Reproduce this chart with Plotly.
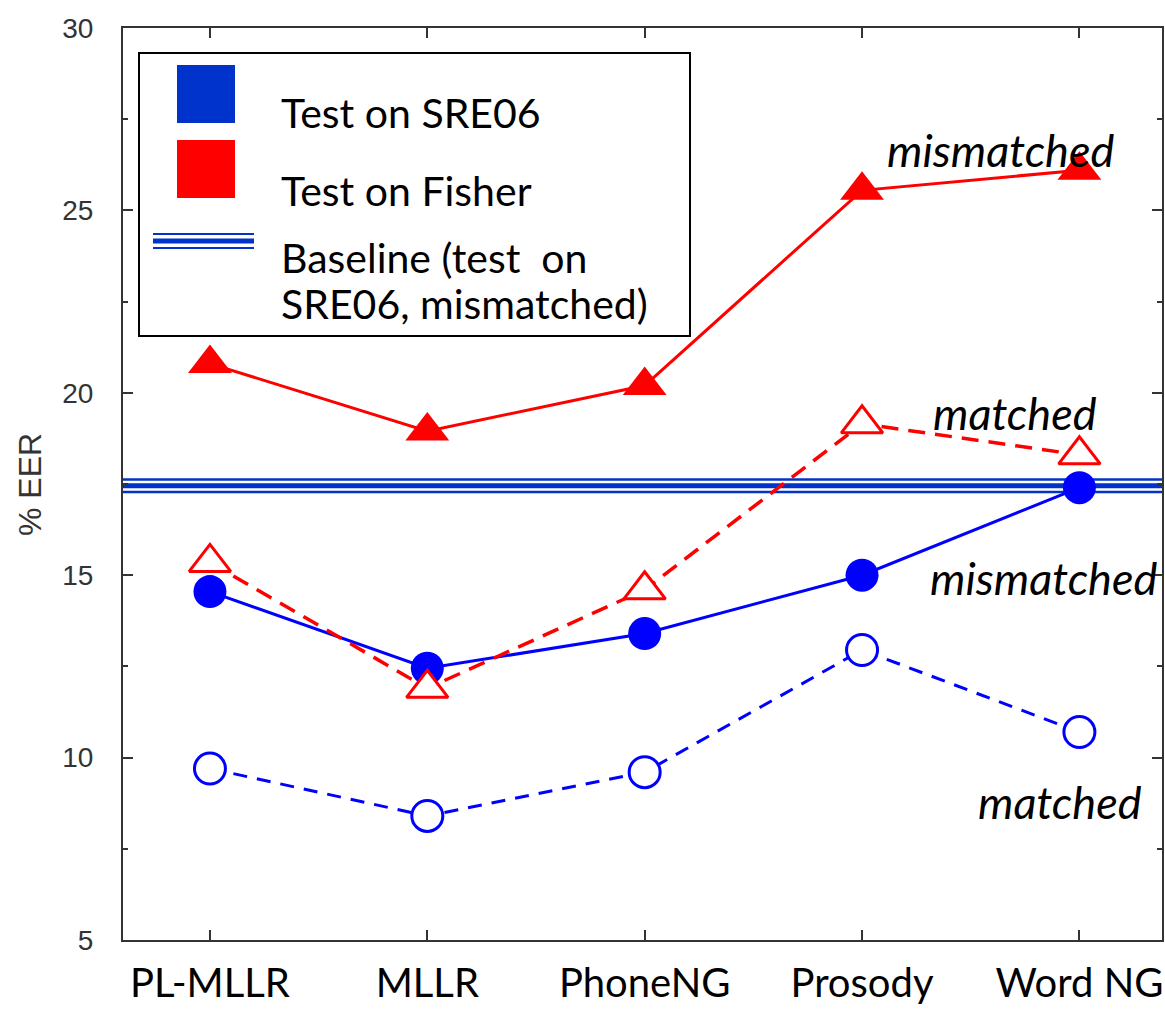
import plotly.graph_objects as go

categories = ["PL-MLLR", "MLLR", "PhoneNG", "Prosody", "Word NG"]
fisher_mismatched = [20.8, 18.95, 20.2, 25.55, 26.1]
fisher_matched = [15.35, 11.9, 14.6, 19.15, 18.3]
sre06_mismatched = [14.55, 12.45, 13.4, 15.0, 17.4]
sre06_matched = [9.7, 8.4, 9.6, 12.95, 10.7]
baseline = 17.45
y_ticks = [5, 10, 15, 20, 25, 30]

BLUE = "#0000ff"
BLUE_DARK = "#0033cc"
RED = "#ff0000"

W, H = 1165, 1010
L, R, T, B = 123, 3, 28, 70
PW, PH = W - L - R, H - T - B

def px(x):
    return (x - L) / PW

def py(y):
    return (H - B - y) / PH

xs = list(range(len(categories)))
xr = [-0.40, 4.38]

fig = go.Figure()

# baseline (triple line effect)
for w, c in [(15, BLUE_DARK), (10, "white"), (5, BLUE_DARK)]:
    fig.add_trace(go.Scatter(x=xr, y=[baseline, baseline], mode="lines",
                             line=dict(color=c, width=w), hoverinfo="skip", showlegend=False))

fig.add_trace(go.Scatter(x=xs, y=sre06_matched, mode="lines+markers",
                         line=dict(color=BLUE, width=3, dash="14px,10px"),
                         marker=dict(symbol="circle", size=31, color="white", line=dict(width=3, color=BLUE)),
                         showlegend=False))
fig.add_trace(go.Scatter(x=xs, y=sre06_mismatched, mode="lines+markers",
                         line=dict(color=BLUE, width=3),
                         marker=dict(symbol="circle", size=33, color=BLUE),
                         showlegend=False))
fig.add_trace(go.Scatter(x=xs, y=fisher_matched, mode="lines+markers",
                         line=dict(color=RED, width=3.5, dash="17px,10px"),
                         marker=dict(symbol="triangle-up", size=36, color="white", line=dict(width=3, color=RED)),
                         showlegend=False))
fig.add_trace(go.Scatter(x=xs, y=fisher_mismatched, mode="lines+markers",
                         line=dict(color=RED, width=3),
                         marker=dict(symbol="triangle-up", size=38, color=RED),
                         showlegend=False))

shapes = []
annotations = []

# legend box
shapes.append(dict(type="rect", xref="paper", yref="paper",
                   x0=px(139), x1=px(690), y0=py(336), y1=py(53),
                   line=dict(color="black", width=2), fillcolor="white", layer="above"))
shapes.append(dict(type="rect", xref="paper", yref="paper",
                   x0=px(177), x1=px(235), y0=py(123), y1=py(65),
                   line=dict(width=0), fillcolor=BLUE_DARK, layer="above"))
shapes.append(dict(type="rect", xref="paper", yref="paper",
                   x0=px(177), x1=px(235), y0=py(198), y1=py(140),
                   line=dict(width=0), fillcolor=RED, layer="above"))
for yy, w in [(234, 2), (241, 5), (248, 2)]:
    shapes.append(dict(type="line", xref="paper", yref="paper",
                       x0=px(153), x1=px(254), y0=py(yy), y1=py(yy),
                       line=dict(color=BLUE_DARK, width=w), layer="above"))

legend_texts = [("Test on SRE06", 113), ("Test on Fisher", 190),
                ("Baseline (test  on", 257), ("SRE06, mismatched)", 303)]
for txt, yy in legend_texts:
    annotations.append(dict(text=txt, xref="paper", yref="paper", x=px(279), y=py(yy),
                            xanchor="left", yanchor="middle", showarrow=False,
                            font=dict(family="Lato, Open Sans, sans-serif", size=41, color="black")))

# series labels
labels = [("mismatched", 1000, 150), ("matched", 1015, 413),
          ("mismatched", 1043, 578), ("matched", 1060, 802)]
for txt, x, y in labels:
    annotations.append(dict(text="<i>" + txt + "</i>", xref="paper", yref="paper", x=px(x), y=py(y),
                            xanchor="center", yanchor="middle", showarrow=False,
                            font=dict(family="Lato, Open Sans, sans-serif", size=45, color="black")))

# y axis title
annotations.append(dict(text="% EER", xref="paper", yref="paper", x=px(30), y=py(485),
                        xanchor="center", yanchor="middle", showarrow=False, textangle=-90,
                        font=dict(family="Liberation Sans, Arial, sans-serif", size=32, color="#333333")))

fig.update_layout(
    width=W, height=H,
    margin=dict(l=L, r=R, t=T, b=B),
    plot_bgcolor="white", paper_bgcolor="white",
    shapes=shapes, annotations=annotations,
    showlegend=False,
    xaxis=dict(range=xr, tickmode="array", tickvals=xs, ticktext=categories,
               showgrid=False, zeroline=False, automargin=False,
               showline=True, linecolor="#333333", linewidth=2, mirror="ticks",
               ticks="inside", ticklen=10, tickwidth=2, tickcolor="#333333",
               tickfont=dict(family="Lato, Open Sans, sans-serif", size=40, color="black"),
               ticklabelstandoff=7),
    yaxis=dict(range=[5, 30], tickmode="array", tickvals=y_ticks,
               showgrid=False, zeroline=False, automargin=False,
               showline=True, linecolor="#333333", linewidth=2, mirror="ticks",
               ticks="inside", ticklen=10, tickwidth=2, tickcolor="#333333",
               minor=dict(dtick=2.5, ticks="inside", ticklen=5, tickwidth=2, tickcolor="#333333"),
               tickfont=dict(family="Liberation Sans, Arial, sans-serif", size=28, color="#333333"),
               ticklabelstandoff=22),
)

fig.write_html("out.html")
